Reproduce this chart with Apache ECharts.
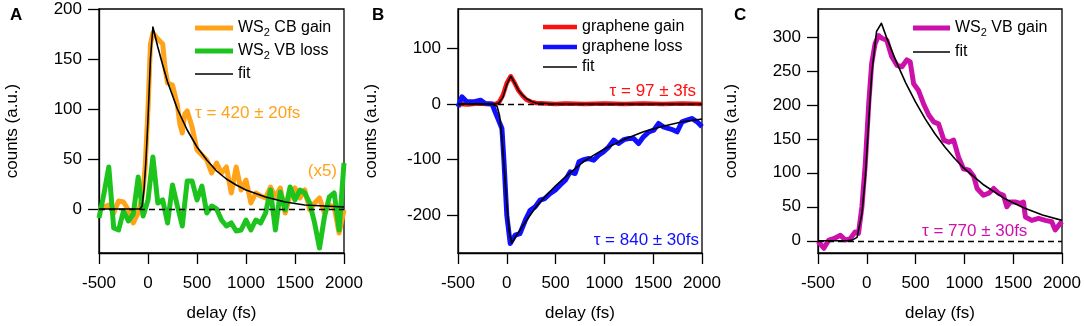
<!DOCTYPE html>
<html>
<head>
<meta charset="utf-8">
<script src="https://cdn.jsdelivr.net/npm/echarts@6/dist/echarts.min.js"></script>
<style>
  html, body { margin: 0; padding: 0; background: #fff; }
  #chart { width: 1084px; height: 326px; }
</style>
</head>
<body>
<div id="chart"></div>
<script>
// ---- data (delay in fs, counts in a.u.) ----
var cbDelay = [-500,-450,-400,-350,-300,-250,-200,-150,-100,-60,-30,0,25,50,100,150,175,200,250,300,325,350,375,400,
  450,500,550,600,650,700,750,800,850,900,950,1000,1050,1100,1150,1200,1250,1300,1350,1400,1450,1500,1550,1600,1650,1700,1750,1800,1850,1900,1950,2000];
var cbGain = [0,2,4,-4,8,7,-1,-14,-4,12,40,100,165,176,170,165,140,126,124,104,85,76,95,98,
  82,59,54,49,36,46,36,42,16,42,19,29,6,16,13,11,22,12,21,-4,14,21,11,19,-1,6,11,-4,4,2,-24,-1];

var vbLossDelay = [-500,-450,-400,-350,-300,-250,-200,-150,-100,-50,0,50,100,150,200,250,300,350,400,450,500,550,600,650,700,
  750,800,850,900,950,1000,1050,1100,1150,1200,1250,1300,1350,1400,1450,1500,1550,1600,1650,1700,1750,1800,1850,1900,1950,2000];
var vbLoss = [-9,15,42,-19,-21,-2,-12,-5,32,-7,9,52,6,9,-14,24,3,-17,28,28,9,23,-4,3,0,
  -11,-17,-14,-22,-21,-11,-21,-11,-14,-4,19,-21,17,-1,22,9,19,16,6,-14,-39,-8,12,16,-21,46];

var fitADelay = [-500,-80,-60,-40,-20,0,25,50,75,100,150,200,300,400,500,600,700,800,900,1000,1200,1400,1600,1800,2000];
var fitA = [0,0,3,20,50,90,150,182,172,162,144,127,100,79,62,49,38,30,24,19,12,7,4,3,2];

var grDelay = [-500,-400,-300,-200,-120,-80,-40,0,40,80,120,160,200,250,300,400,500,600,800,1000,1200,1400,1600,1800,2000];
var grGain = [0,-1,1,0,0,3,16,38,50,38,24,15,8,4,2,1,0,1,0,1,0,1,0,1,0];
var fitGain = [0,0,0,0,0,2,12,35,50,38,25,16,10,5,2,1,0,0,0,0,0,0,0,0,0];

var grLossDelay = [-500,-460,-410,-340,-270,-220,-150,-120,-85,-50,-30,0,35,50,85,135,190,240,290,340,
  390,445,495,545,600,650,700,740,790,840,890,940,990,1045,1095,1145,1200,1250,1300,1350,
  1400,1455,1505,1555,1605,1660,1710,1745,1795,1845,1895,1950,2000];
var grLoss = [-5,13,4,4,7,1,0,-14,-29,-44,-100,-200,-251,-254,-236,-233,-209,-191,-185,-173,
  -170,-161,-155,-146,-137,-122,-125,-104,-100,-98,-101,-92,-86,-77,-65,-71,-64,-62,-62,-71,
  -59,-50,-47,-35,-41,-44,-47,-50,-32,-29,-26,-32,-41];
var fitLossDelay = [-500,-150,-100,-75,-50,-25,0,25,50,100,200,300,400,500,600,700,800,900,1000,1200,1400,1600,1800,2000];
var fitLoss = [0,0,-4,-20,-60,-120,-180,-230,-250,-236,-210,-185,-165,-147,-131,-116,-102,-91,-81,-64,-50,-40,-32,-27];

var vbGainDelay = [-500,-440,-390,-340,-270,-220,-170,-120,-85,-50,-15,20,50,85,120,155,205,255,310,360,
  410,445,480,530,580,635,685,735,790,840,890,940,990,1045,1095,1130,1195,1250,1300,1350,
  1400,1435,1470,1520,1575,1605,1625,1690,1760,1830,1895,1930,1985,2000];
var vbGain = [-1,-11,1,3,8,1,3,13,11,50,114,202,261,290,302,298,295,271,258,256,
  266,263,231,221,202,185,175,172,148,145,148,123,106,104,95,77,67,70,77,70,
  67,50,57,57,55,57,35,30,33,30,28,16,26,28];
var fitCDelay = [-500,-200,-150,-100,-50,-15,20,50,100,150,200,300,400,500,600,700,800,900,1000,1200,1400,1600,1800,2000];
var fitC = [0,0,1,5,40,94,177,245,308,320,300,264,232,204,179,157,138,121,106,82,63,49,38,30];

var yTicksA = [0, 50, 100, 150, 200];
var yTicksB = [-200, -100, 0, 100];
var yTicksC = [0, 50, 100, 150, 200, 250, 300];

// ---- styling ----
var FONT = '"Liberation Sans", Arial, sans-serif';
var THICK = 'path://M0,0H38V5H0Z';
var THIN = 'path://M0,0H38V1.5H0Z';

function zip(xs, ys) {
  return xs.map(function (x, i) { return [x, ys[i]]; });
}

var grids = [
  { left: 99, width: 245, top: 9, height: 244 },
  { left: 458, width: 244, top: 9, height: 244 },
  { left: 818, width: 244, top: 9, height: 244 }
];

function xAxisFor(i) {
  return {
    gridIndex: i, type: 'value', min: -500, max: 2000, interval: 500,
    name: 'delay (fs)', nameLocation: 'middle', nameGap: 52,
    nameTextStyle: { fontSize: 17, fontFamily: FONT, color: '#000' },
    axisLine: { onZero: false, lineStyle: { color: '#000', width: 1.3 } },
    axisTick: { length: 11, lineStyle: { color: '#000', width: 1.3 } },
    axisLabel: {
      margin: 22, fontSize: 17, fontFamily: FONT, color: '#000',
      showMinLabel: true, showMaxLabel: true, hideOverlap: false,
      formatter: function (v) { return String(v); }
    },
    splitLine: { show: false }
  };
}

function yAxisFor(i, min, max, ticks) {
  return {
    gridIndex: i, type: 'value', min: min, max: max,
    name: 'counts (a.u.)', nameLocation: 'middle', nameGap: 78,
    nameTextStyle: { fontSize: 17, fontFamily: FONT, color: '#000' },
    axisLine: { onZero: false, lineStyle: { color: '#000', width: 1.3 } },
    axisTick: { length: 11, customValues: ticks, lineStyle: { color: '#000', width: 1.3 } },
    axisLabel: { margin: 17, fontSize: 17, fontFamily: FONT, color: '#000', customValues: ticks },
    splitLine: { show: false }
  };
}

function dataLine(name, i, pts, color, width, z) {
  return {
    name: name, type: 'line', xAxisIndex: i, yAxisIndex: i, data: pts,
    symbol: 'none', color: color, z: z,
    lineStyle: { color: color, width: width, join: 'round' }
  };
}

function zeroLine() {
  return {
    silent: true, symbol: ['none', 'none'], label: { show: false },
    lineStyle: { type: [6, 4], color: '#000', width: 1.3 },
    emphasis: { disabled: true },
    data: [{ yAxis: 0 }]
  };
}

function legendFor(names, icons, left, top, w, gap, lh) {
  return {
    orient: 'vertical', left: left, top: top, itemWidth: w, itemHeight: 5, itemGap: gap,
    selectedMode: false,
    data: names.map(function (n, k) { return { name: n, icon: icons[k] }; }),
    formatter: function (name) {
      if (name.indexOf('WS₂') === 0) return '{n|WS}{s|2}{n|' + name.slice(3) + '}';
      return '{n|' + name + '}';
    },
    textStyle: {
      rich: {
        n: { fontSize: 16, fontFamily: FONT, color: '#000', lineHeight: lh },
        s: { fontSize: 11, fontFamily: FONT, color: '#000', lineHeight: 11, verticalAlign: 'bottom' }
      }
    }
  };
}

var seriesA1 = dataLine('WS₂ CB gain', 0, zip(cbDelay, cbGain), '#ffa31a', 5, 2);
seriesA1.markLine = zeroLine();
var seriesB1 = dataLine('graphene gain', 1, zip(grDelay, grGain), '#ff1010', 4.5, 2);
seriesB1.markLine = zeroLine();
var seriesC1 = dataLine('WS₂ VB gain', 2, zip(vbGainDelay, vbGain), '#cc11aa', 5, 2);
seriesC1.markLine = zeroLine();

function label(x, y, text, color, align, bold) {
  return {
    type: 'text', x: x, y: y, silent: true,
    style: {
      text: text, fill: color, align: align || 'left', verticalAlign: 'middle',
      font: (bold ? 'bold ' : '') + '17px ' + FONT
    }
  };
}

var chart = echarts.init(document.getElementById('chart'));
chart.setOption({
  animation: false,
  backgroundColor: '#fff',
  grid: grids.map(function (g) {
    return Object.assign({
      show: true, borderColor: '#000', borderWidth: 1.3, backgroundColor: 'transparent',
      containLabel: false, outerBoundsMode: 'none'
    }, g);
  }),
  xAxis: [xAxisFor(0), xAxisFor(1), xAxisFor(2)],
  yAxis: [yAxisFor(0, -44, 200, yTicksA), yAxisFor(1, -268, 171, yTicksB), yAxisFor(2, -18, 341, yTicksC)],
  legend: [
    legendFor(['WS₂ CB gain', 'WS₂ VB loss', 'fit'], [THICK, THICK, THIN], 190, 15, 38, 5, 20),
    legendFor(['graphene gain', 'graphene loss', 'fit'], [THICK, THICK, THIN], 538, 14, 34, 4, 18),
    legendFor(['WS₂ VB gain', 'fit'], [THICK, THIN], 908, 15, 37, 6, 20)
  ],
  graphic: [
    label(10, 15, 'A', '#000', 'left', true),
    label(372, 15, 'B', '#000', 'left', true),
    label(734, 15, 'C', '#000', 'left', true),
    label(195, 113, 'τ = 420 ± 20fs', '#ffa31a'),
    label(337, 171, '(x5)', '#ffa31a', 'right'),
    label(696, 91, 'τ = 97 ± 3fs', '#ff1010', 'right'),
    label(699, 240, 'τ = 840 ± 30fs', '#1010ff', 'right'),
    label(922, 231, 'τ = 770 ± 30fs', '#cc11aa')
  ],
  series: [
    seriesA1,
    dataLine('WS₂ VB loss', 0, zip(vbLossDelay, vbLoss), '#1ec41e', 5, 3),
    dataLine('fit', 0, zip(fitADelay, fitA), '#000', 1.6, 4),
    seriesB1,
    dataLine('graphene loss', 1, zip(grLossDelay, grLoss), '#1010ff', 5, 3),
    dataLine('fit', 1, zip(grDelay, fitGain), '#000', 1.6, 4),
    dataLine('fit', 1, zip(fitLossDelay, fitLoss), '#000', 1.6, 4),
    seriesC1,
    dataLine('fit', 2, zip(fitCDelay, fitC), '#000', 1.6, 4)
  ]
});
</script>
</body>
</html>
